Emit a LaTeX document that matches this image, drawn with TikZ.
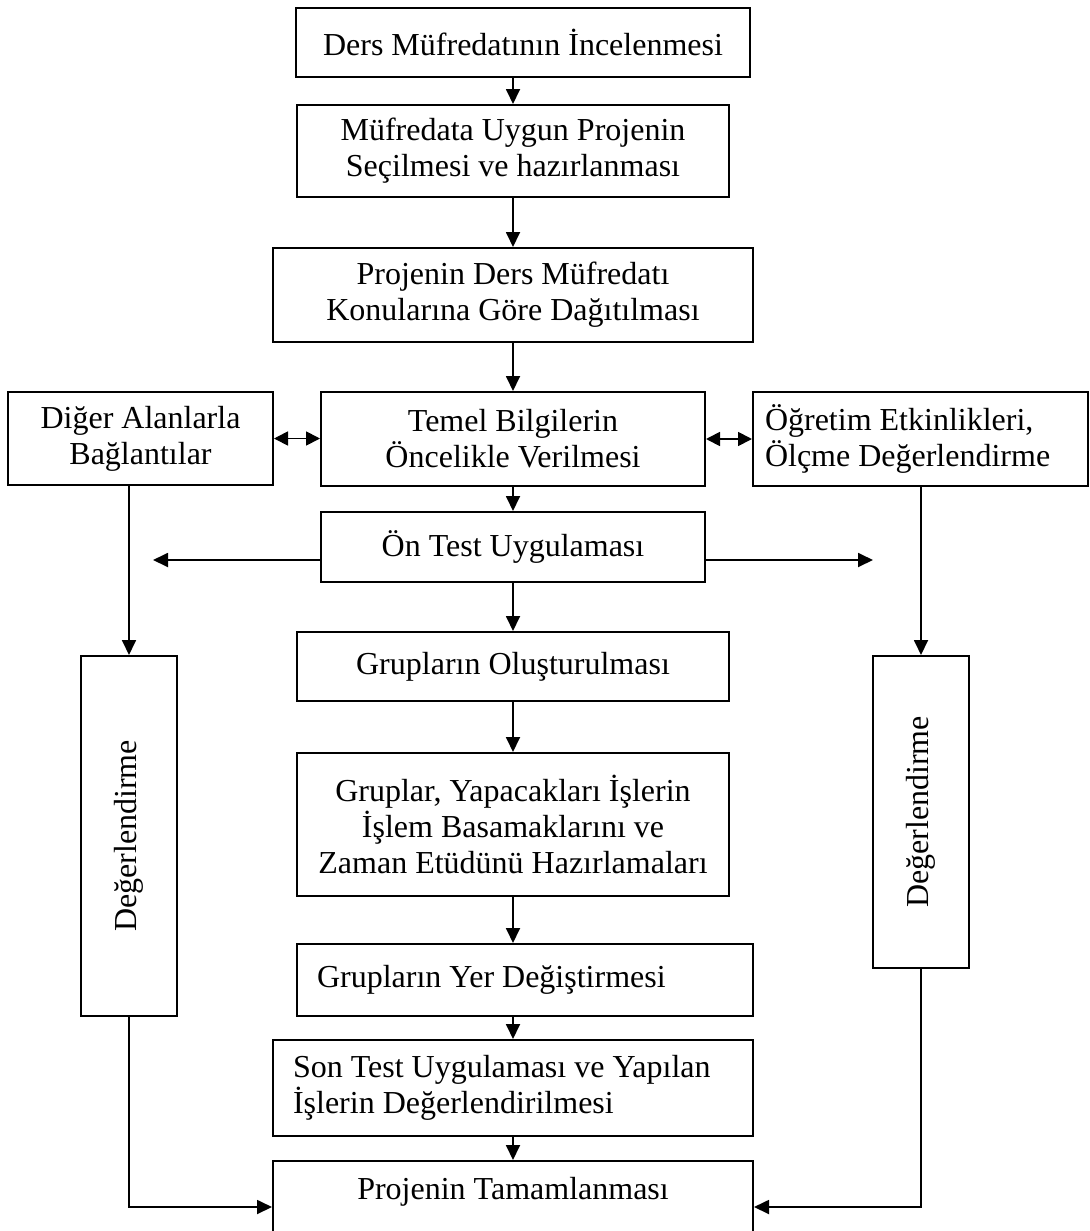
\documentclass[tikz,border=0pt]{standalone}
\usepackage{fontspec}
\setmainfont{Liberation Serif}
\usetikzlibrary{arrows.meta}
\begin{document}
\begin{tikzpicture}[x=0.5pt,y=-0.5pt,
  box/.style={draw, line width=1pt, inner sep=0pt, align=center, font=\fontsize{16}{18}\selectfont},
  arr/.style={line width=0.9pt, -{Triangle[length=7.5pt,width=7pt]}},
  darr/.style={line width=0.9pt, {Triangle[length=7pt,width=7pt]}-{Triangle[length=7pt,width=7pt]}}]
\clip (0,0) rectangle (1089,1231);
\fill[white] (0,0) rectangle (1089,1231);

\node[box, minimum width=227pt, minimum height=34.5pt] (n1) at (523,42.5) {Ders Müfredatının İncelenmesi};
\node[box, minimum width=216pt, minimum height=46pt] (n2) at (513,151) {Müfredata Uygun Projenin\\Seçilmesi ve hazırlanması};
\node[box, minimum width=240pt, minimum height=47pt] (n3) at (513,295) {Projenin Ders Müfredatı\\Konularına Göre Dağıtılması};
\node[box, minimum width=192pt, minimum height=47pt] (n4) at (513,439) {Temel Bilgilerin\\Öncelikle Verilmesi};
\node[box, minimum width=132.5pt, minimum height=46.5pt] (nl) at (140.5,438.5) {Diğer Alanlarla\\Bağlantılar};
\node[box, text width=155.5pt, inner xsep=6pt, align=flush left, minimum height=47pt] (nr) at (920.5,439) {Öğretim Etkinlikleri,\\Ölçme Değerlendirme};
\node[box, minimum width=192pt, minimum height=35pt] (n5) at (513,547) {Ön Test Uygulaması};
\node[box, minimum width=216pt, minimum height=34.5pt] (n6) at (513,666.5) {Grupların Oluşturulması};
\node[box, minimum width=216pt, minimum height=71.5pt] (n7) at (513,824.5) {Gruplar, Yapacakları İşlerin\\İşlem Basamaklarını ve\\Zaman Etüdünü Hazırlamaları};
\node[box, text width=208pt, inner xsep=10pt, align=flush left, minimum height=36pt] (n8) at (525,980) {Grupların Yer Değiştirmesi};
\node[box, text width=220pt, inner xsep=10pt, align=flush left, minimum height=48pt] (n9) at (513,1088) {Son Test Uygulaması ve Yapılan\\İşlerin Değerlendirilmesi};
\node[box, anchor=north, minimum width=240pt, text height=19pt, text depth=50pt] (n10) at (513,1160) {Projenin Tamamlanması};
\node[box, minimum width=48pt, minimum height=180pt] (el) at (129,836) {\rotatebox{90}{Değerlendirme}};
\node[box, minimum width=48pt, minimum height=156pt] (er) at (921,812) {\rotatebox{90}{Değerlendirme}};

\coordinate (lt) at (153,560);
\coordinate (rt) at (873,560);
\coordinate (bot) at (0,1207);

\draw[arr] (n1.south -| n2.north) -- (n2.north);
\draw[arr] (n2.south) -- (n3.north);
\draw[arr] (n3.south) -- (n4.north);
\draw[darr] (nl.east) -- (nl.east -| n4.west);
\draw[darr] (n4.east) -- (n4.east -| nr.west);
\draw[arr] (n4.south) -- (n5.north);
\draw[arr] (n5.west |- lt) -- (lt);
\draw[arr] (n5.east |- rt) -- (rt);
\draw[arr] (n5.south) -- (n6.north);
\draw[arr] (n6.south) -- (n7.north);
\draw[arr] (n7.south) -- (n8.north -| n7.south);
\draw[arr] (n8.south -| n9.north) -- (n9.north);
\draw[arr] (n9.south) -- (n10.north);
\draw[arr] (nl.south -| el.north) -- (el.north);
\draw[arr] (nr.south -| er.north) -- (er.north);
\draw[arr] (el.south) |- (n10.west |- bot);
\draw[arr] (er.south) |- (n10.east |- bot);
\end{tikzpicture}
\end{document}
